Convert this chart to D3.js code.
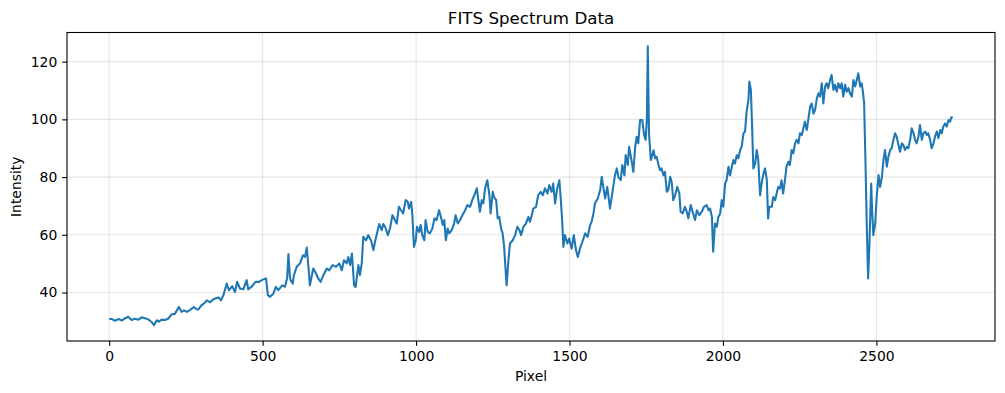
<html>
<head>
<script src="https://d3js.org/d3.v7.min.js"></script>
<style>
  html { font-family: "DejaVu Sans", sans-serif; }
  body { margin: 0; background: #fff; }
  .axis text { font-family: "DejaVu Sans", sans-serif; font-size: 13.9px; fill: #000; }
  .axis line, .axis path { stroke: #000; stroke-width: 1.1px; }
</style>
</head>
<body>
<div id="graph"></div>
<script>
// spectrum: pixel index and intensity
var pixel = [0,8,19,30,41,51,62,73,84,95,106,117,127,138,146,155,162,171,182,193,204,214,227,236,244,253,263,276,285,
  290,301,309,318,329,337,345,356,364,372,383,390,401,410,417,426,437,448,453,466,477,488,497,511,517,524,535,543,551,564,573,580,584,589,591,598,
  602,611,622,631,638,644,649,654,665,674,681,689,698,709,717,728,739,750,758,765,774,779,785,791,798,803,812,817,823,828,837,844,853,861,866,875,880,888,893,
  899,908,915,923,931,937,944,951,958,966,973,977,984,988,993,999,1003,1010,1015,1020,1027,1031,1038,1045,1053,1060,1067,1075,1081,1087,1092,1097,1103,1108,1116,1124,1129,1136,1143,1151,1160,1167,1176,1183,1190,1198,1203,
  1208,1214,1219,1225,1232,1239,1243,1250,1254,1261,1266,1271,1277,1282,1287,1291,1295,1301,1306,1315,1323,1330,1337,1342,1350,1358,1366,1371,1377,1382,1391,1398,1406,1413,1420,1428,1434,1442,1447,1453,1460,1467,1471,1476,1480,1485,1493,1499,1507,1514,1521,
  1527,1534,1542,1551,1559,1567,1572,1578,1583,1592,1600,1605,1610,1616,1623,1632,1640,1648,1654,1659,1667,1672,1679,1683,1690,1694,1701,1708,1714,1719,1724,1730,1737,1743,1748,1752,1755,1759,1765,1770,1774,1779,1784,1790,1795,1800,1806,1811,1817,1822,
  1828,1833,1838,1844,1851,1858,1862,1869,1876,1882,1887,1895,1901,1909,1915,1923,1931,1938,1947,1953,1958,1964,1968,1974,1980,1985,1991,1996,2001,2007,2012,2018,2023,2029,2034,2039,2045,2050,2056,2061,2067,2072,2077,2083,2086,2091,2095,2099,2105,2110,2115,2121,2126,2132,2137,2143,2147,
  2151,2159,2164,2170,2175,2180,2186,2191,2196,2202,2207,2213,2218,2224,2229,2235,2240,2246,2251,2257,2262,2267,2273,2278,2284,2289,2295,2300,2306,2311,2316,2322,2327,2333,2338,2343,2349,2354,2360,2365,2371,2376,2382,2387,2392,2398,2403,2409,2414,2420,2425,2431,2436,2441,2447,2452,2456,2460,2464,2469,
  2473,2477,2483,2486,2490,2496,2501,2507,2512,2518,2523,2528,2534,2539,2545,2550,2555,2561,2566,2572,2577,2583,2588,2593,2599,2604,2610,2615,2621,2626,2631,2637,2642,2648,2653,2659,2664,2669,2675,2680,2686,2691,2697,2702,2708,2713,2718,2724,2729,2735,2740,2744,2749];

var intensity = [30.7,30.9,30.2,30.8,30.3,31.0,31.6,30.5,30.9,30.6,31.4,31.1,30.7,29.8,28.7,30.4,29.9,30.6,30.5,31.0,32.5,32.6,35.0,33.3,33.8,33.3,33.9,35.0,34.2,
  34.1,35.6,36.2,37.3,36.6,37.5,37.9,38.3,37.3,39.0,43.1,40.8,42.2,40.2,43.7,41.4,41.1,44.3,41.1,42.2,43.7,43.7,44.3,44.9,39.1,38.5,39.6,42.0,40.8,42.5,42.0,45.0,53.3,45.5,44.3,43.1,
  46.0,48.9,50.1,52.9,52.3,55.6,49.1,42.5,48.3,46.6,44.9,43.7,46.0,48.3,47.7,49.5,48.9,50.1,47.7,51.2,50.1,52.3,49.5,53.5,42.5,41.9,49.5,46.0,50.1,59.3,58.1,59.9,58.1,54.7,57.5,61.6,63.7,61.6,63.7,
  62.8,59.9,62.2,66.8,65.1,63.9,69.7,68.5,67.4,72.0,71.4,69.1,71.4,66.8,55.8,58.1,62.8,61.0,63.4,59.9,58.1,65.1,61.0,60.5,62.2,65.7,65.1,68.5,66.2,63.4,65.1,58.1,62.2,60.5,61.6,63.9,66.8,63.9,65.1,66.8,68.5,70.3,69.7,72.0,73.7,76.1,72.0,
  68.0,72.0,70.9,76.1,78.9,73.7,67.4,74.9,73.1,72.0,65.7,66.2,62.2,60.5,55.8,48.9,42.5,51.2,57.0,58.1,59.9,62.8,61.6,59.9,62.8,63.9,66.2,64.5,66.8,69.1,69.7,73.7,74.9,73.7,76.1,74.3,77.2,74.9,77.8,70.9,76.1,78.9,73.1,65.1,55.8,59.9,57.0,58.7,55.2,59.9,54.7,
  52.3,55.2,57.6,60.5,59.3,63.3,64.5,67.4,70.9,72.6,75.5,80.1,76.6,72.6,76.6,69.1,74.9,80.6,83.0,80.1,78.9,84.2,80.6,87.6,84.2,90.5,86.5,81.8,90.5,94.0,91.7,99.8,99.8,94.6,92.9,99.8,125.3,95.2,85.9,87.6,89.3,86.5,87.0,84.2,82.4,83.0,80.6,81.8,74.9,75.5,
  80.1,78.3,72.0,73.7,76.6,74.3,68.0,67.4,69.7,68.0,65.7,70.3,68.0,65.1,68.5,66.8,68.0,69.7,70.3,68.5,69.1,66.2,54.1,63.9,62.8,66.2,67.4,72.0,69.7,77.8,79.0,83.6,80.6,83.6,85.9,84.7,87.6,86.5,89.4,90.5,95.2,95.8,102.6,106.7,113.1,110.2,97.4,83.0,84.7,89.4,86.0,73.7,77.8,81.2,83.0,79.0,65.7,
  69.7,69.7,73.1,72.0,74.3,76.6,76.0,78.9,74.3,78.9,83.6,85.3,84.2,89.4,88.2,91.7,92.9,91.7,95.2,94.6,96.9,99.2,96.3,99.8,104.4,105.5,102.0,103.2,107.3,109.0,107.9,112.5,105.5,111.4,112.5,110.8,113.6,115.4,110.2,112.0,109.6,112.5,110.8,112.5,107.9,112.0,109.6,110.8,109.0,107.9,113.6,111.4,113.6,116.0,111.4,112.5,109.6,105.6,87.0,61.6,
  44.9,55.8,77.8,68.5,59.9,63.9,73.2,80.7,76.6,80.1,85.9,89.4,83.6,87.0,89.4,90.0,92.8,95.2,94.0,91.1,88.8,91.7,91.1,89.4,90.5,90.0,92.9,96.9,95.2,92.9,91.7,94.0,98.0,92.9,95.2,95.8,94.6,95.2,92.9,90.0,91.7,94.0,95.8,93.5,96.3,95.2,97.5,98.6,97.5,99.8,99.2,100.7,100.7];

var xTicks = [0, 500, 1000, 1500, 2000, 2500];
var yTicks = [40, 60, 80, 100, 120];

var margin = {top: 32.5, right: 10, bottom: 52, left: 67},
    width = 1005 - margin.left - margin.right,
    height = 393 - margin.top - margin.bottom;

var data = pixel.map(function(p, i) { return {x: p, y: intensity[i]}; });

var svg = d3.select("#graph")
  .append("svg")
    .attr("width", 1005)
    .attr("height", 393)
  .append("g")
    .attr("transform", "translate(" + margin.left + "," + margin.top + ")");

// matplotlib style 5% margins
var xExt = d3.extent(pixel), xPad = (xExt[1] - xExt[0]) * 0.05;
var x = d3.scaleLinear()
  .domain([xExt[0] - xPad, xExt[1] + xPad])
  .range([0, width]);

var y = d3.scaleLinear()
  .domain([23.2, 130.1])
  .range([height, 0]);

// grid
svg.append("g").selectAll("line").data(xTicks).enter().append("line")
  .attr("x1", function(d) { return x(d); }).attr("x2", function(d) { return x(d); })
  .attr("y1", 0).attr("y2", height)
  .attr("stroke", "#b0b0b0").attr("stroke-opacity", 0.3).attr("stroke-width", 1.1);
svg.append("g").selectAll("line").data(yTicks).enter().append("line")
  .attr("x1", 0).attr("x2", width)
  .attr("y1", function(d) { return y(d); }).attr("y2", function(d) { return y(d); })
  .attr("stroke", "#b0b0b0").attr("stroke-opacity", 0.3).attr("stroke-width", 1.1);

var line = d3.line()
  .x(function(d) { return x(d.x); })
  .y(function(d) { return y(d.y); });

svg.append("path")
  .datum(data)
  .attr("fill", "none")
  .attr("stroke", "#1f77b4")
  .attr("stroke-width", 2.08)
  .attr("stroke-linejoin", "round")
  .attr("d", line);

// axes
var xAxis = svg.append("g")
  .attr("class", "axis")
  .attr("transform", "translate(0," + height + ")")
  .call(d3.axisBottom(x).tickValues(xTicks).tickSize(4.86).tickPadding(4.86).tickFormat(d3.format("d")));
xAxis.select(".domain").remove();

var yAxis = svg.append("g")
  .attr("class", "axis")
  .call(d3.axisLeft(y).tickValues(yTicks).tickSize(4.86).tickPadding(4.86));
yAxis.select(".domain").remove();

// frame
svg.append("rect")
  .attr("width", width).attr("height", height)
  .attr("fill", "none").attr("stroke", "#000").attr("stroke-width", 1.1);

svg.append("text")
  .attr("x", width / 2).attr("y", -8.3)
  .attr("text-anchor", "middle")
  .style("font-size", "16.67px")
  .text("FITS Spectrum Data");

svg.append("text")
  .attr("x", width / 2).attr("y", height + 40)
  .attr("text-anchor", "middle")
  .style("font-size", "13.9px")
  .text("Pixel");

svg.append("text")
  .attr("transform", "rotate(-90)")
  .attr("x", -height / 2).attr("y", -46)
  .attr("text-anchor", "middle")
  .style("font-size", "13.9px")
  .text("Intensity");
</script>
</body>
</html>
